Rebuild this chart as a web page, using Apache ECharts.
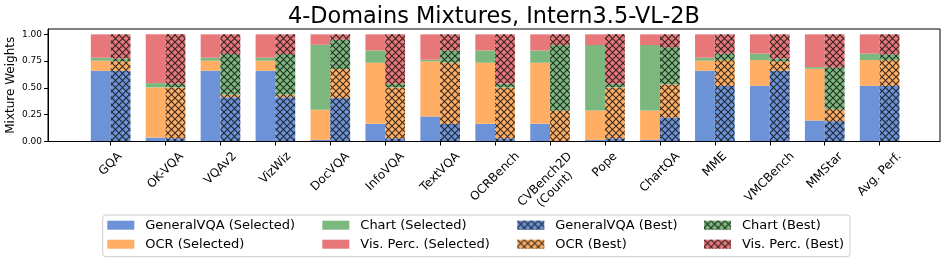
<!DOCTYPE html>
<html><head><meta charset="utf-8">
<script src="https://cdn.jsdelivr.net/npm/echarts@6/dist/echarts.min.js"></script>
<style>html,body{margin:0;padding:0;background:#fff}#c{width:947px;height:264px}</style>
</head><body><div id="c"></div>
<script>
// ---- data ----
const categories = ['GQA','OK-VQA','VQAv2','VizWiz','DocVQA','InfoVQA','TextVQA','OCRBench','CVBench2D\n(Count)','Pope','ChartQA','MME','VMCBench','MMStar','Avg. Perf.'];
const componentNames = ['GeneralVQA','OCR','Chart','Vis. Perc.'];
// Selected mixtures (segment heights)
const generalSel = [0.660,0.037,0.660,0.660,0.015,0.165,0.234,0.165,0.165,0.015,0.015,0.660,0.520,0.196,0.520];
const ocrSel     = [0.094,0.468,0.094,0.094,0.281,0.570,0.514,0.570,0.570,0.275,0.275,0.094,0.240,0.483,0.240];
const chartSel   = [0.028,0.040,0.028,0.028,0.607,0.115,0.015,0.115,0.115,0.610,0.610,0.028,0.060,0.016,0.060];
const visSel     = [0.218,0.455,0.218,0.218,0.097,0.150,0.237,0.150,0.150,0.100,0.100,0.218,0.180,0.305,0.180];
// Best mixtures (segment heights)
const generalBest = [0.660,0.030,0.414,0.414,0.405,0.030,0.165,0.030,0.005,0.030,0.224,0.520,0.660,0.190,0.520];
const ocrBest     = [0.088,0.475,0.022,0.022,0.271,0.475,0.570,0.475,0.285,0.475,0.309,0.240,0.088,0.112,0.240];
const chartBest   = [0.027,0.035,0.380,0.380,0.274,0.035,0.115,0.035,0.610,0.035,0.347,0.060,0.027,0.390,0.053];
const visBest     = [0.225,0.460,0.184,0.184,0.050,0.460,0.150,0.460,0.100,0.460,0.120,0.180,0.225,0.308,0.187];
const yTicks = [0, 0.25, 0.5, 0.75, 1.0];

// ---- style ----
const FONT = '"DejaVu Sans", sans-serif';
const colors = ['#6C93D8', '#FFAE63', '#7CB87E', '#E77779'];
const selData = [generalSel, ocrSel, chartSel, visSel];
const bestData = [generalBest, ocrBest, chartBest, visBest];

const plotL = 48, plotR = 940, plotT = 29, plotB = 141.5, W = 947, H = 264;
const band = 54.93, tick0 = 110.6;
const barL = tick0 - band / 2, barW = band * categories.length;

// padding so rotated labels sit like matplotlib's (ha=center, va=top) tick labels
const LBL_FS = 12, LBL_LH = 14;
const mctx = document.createElement('canvas').getContext('2d');
mctx.font = LBL_FS + 'px "DejaVu Sans"';
const catItems = categories.map(name => {
  const lines = name.split('\n');
  const w = Math.max(...lines.map(l => mctx.measureText(l).width));
  const h = lines.length * LBL_LH;
  const b = (w + h) / 2;
  const a = (w - h) / 4;
  return { value: name, textStyle: { padding: [a, b, 0, 0], align: 'center', verticalAlign: 'top',
    fontFamily: FONT, fontSize: LBL_FS, lineHeight: LBL_LH, color: '#000' } };
});

const hatch = {
  symbol: 'path://M0,0L1.1,0L10,8.9L10,10L8.9,10L0,1.1ZM10,0L10,1.1L1.1,10L0,10L0,8.9L8.9,0Z',
  symbolSize: 1,
  symbolKeepAspect: false,
  dashArrayX: [7, 0],
  dashArrayY: [7, 0],
  color: 'rgba(20,20,20,0.85)'
};

const series = [];
componentNames.forEach((n, i) => {
  series.push({
    name: n + ' (Selected)', type: 'bar', stack: 'sel', xAxisIndex: 1, yAxisIndex: 1,
    data: selData[i], barWidth: 19.8, barGap: '0%',
    itemStyle: { color: colors[i] }, emphasis: { disabled: true }
  });
});
componentNames.forEach((n, i) => {
  series.push({
    name: n + ' (Best)', type: 'bar', stack: 'best', xAxisIndex: 1, yAxisIndex: 1,
    data: bestData[i], barWidth: 19.8, barGap: '0%',
    itemStyle: { color: colors[i], decal: hatch }, emphasis: { disabled: true }
  });
});

const legendCols = [
  { left: 107.3, data: ['GeneralVQA (Selected)', 'OCR (Selected)'] },
  { left: 322.3, data: ['Chart (Selected)', 'Vis. Perc. (Selected)'] },
  { left: 517.3, data: ['GeneralVQA (Best)', 'OCR (Best)'] },
  { left: 704.0, data: ['Chart (Best)', 'Vis. Perc. (Best)'] }
];

const chart = echarts.init(document.getElementById('c'), null, { renderer: 'canvas' });
chart.setOption({
  animation: false,
  backgroundColor: '#fff',
  textStyle: { fontFamily: FONT },
  title: {
    text: '4-Domains Mixtures, Intern3.5-VL-2B',
    left: (plotL + plotR) / 2, top: 6, textAlign: 'center', padding: 0,
    textStyle: { fontFamily: FONT, fontSize: 22.4, fontWeight: 'normal', color: '#000' }
  },
  graphic: [{
    type: 'rect', z: 1,
    shape: { x: 102.7, y: 215, width: 747.3, height: 41.7, r: 3 },
    style: { fill: 'rgba(255,255,255,0.8)', stroke: '#cccccc', lineWidth: 1 }
  }],
  legend: legendCols.map(c => ({
    orient: 'vertical', left: c.left, top: 218.7, padding: 0,
    itemWidth: 27, itemHeight: 9, itemGap: 6, icon: 'rect', z: 5,
    selectedMode: false, data: c.data,
    textStyle: { fontFamily: FONT, fontSize: 13, color: '#000', padding: [0, 0, 0, 6] }
  })),
  grid: [
    { left: plotL, right: W - plotR, top: plotT, bottom: H - plotB, show: true,
      borderColor: '#000', borderWidth: 1, backgroundColor: 'transparent', outerBoundsMode: 'none', containLabel: false },
    { left: barL, right: W - (barL + barW), top: plotT, bottom: H - plotB, show: false,
      outerBoundsMode: 'none', containLabel: false }
  ],
  xAxis: [
    { gridIndex: 0, type: 'value', min: 0, max: 1, z: 5,
      axisLine: { show: true, onZero: false, lineStyle: { color: '#000', width: 1 } },
      axisTick: { show: false }, axisLabel: { show: false }, splitLine: { show: false } },
    { gridIndex: 1, type: 'category', data: catItems, boundaryGap: true,
      axisLine: { show: false },
      axisTick: { show: true, alignWithLabel: true, length: 4, lineStyle: { color: '#000', width: 1 } },
      axisLabel: { interval: 0, rotate: 45, margin: 8, hideOverlap: false,
        fontFamily: FONT, fontSize: LBL_FS, lineHeight: LBL_LH, color: '#000' },
      splitLine: { show: false } }
  ],
  yAxis: [
    { gridIndex: 0, type: 'value', min: 0, max: 1.05, z: 5,
      name: 'Mixture Weights', nameLocation: 'middle', nameGap: 31, nameRotate: 90, nameMoveOverlap: false,
      nameTextStyle: { fontFamily: FONT, fontSize: 12, color: '#000' },
      axisLine: { show: true, lineStyle: { color: '#000', width: 1 } },
      axisTick: { show: true, length: 4, customValues: yTicks, lineStyle: { color: '#000', width: 1 } },
      axisLabel: { show: true, customValues: yTicks, margin: 6, fontFamily: FONT, fontSize: 9, color: '#000',
        formatter: v => Number(v).toFixed(2) },
      splitLine: { show: false } },
    { gridIndex: 1, type: 'value', min: 0, max: 1.05, show: false, splitLine: { show: false } }
  ],
  series: series
});
</script>
</body></html>
